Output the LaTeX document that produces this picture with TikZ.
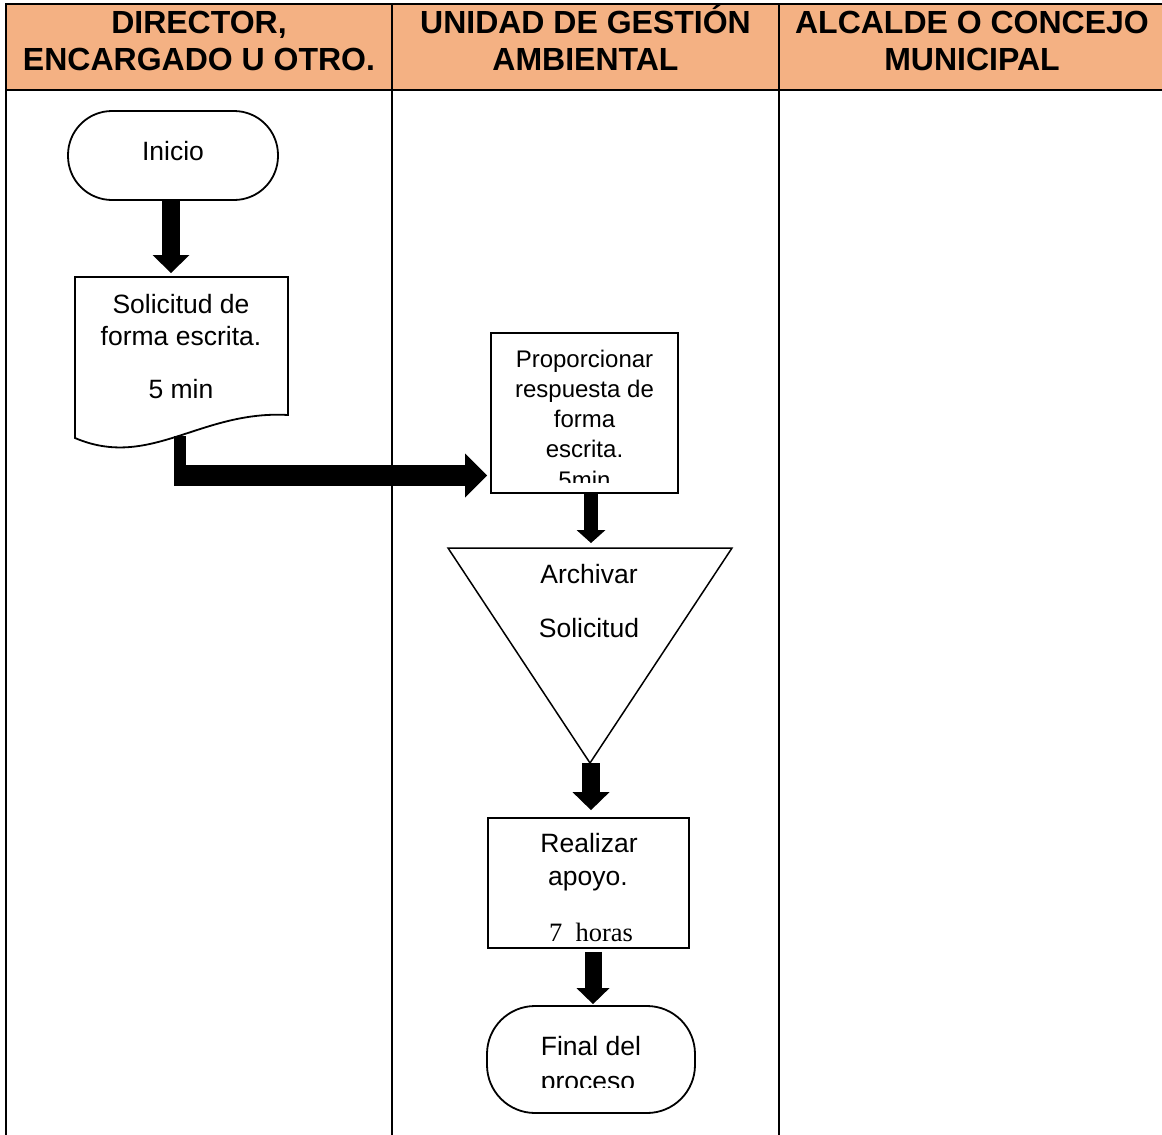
\documentclass[tikz,border=0pt]{standalone}
\usepackage{fontspec}
\setmainfont{Liberation Sans}
\newfontfamily\serifface{Liberation Serif}
\usetikzlibrary{arrows.meta,calc}
\definecolor{headfill}{HTML}{F4B183}
\begin{document}
\begin{tikzpicture}[x=1pt,y=-1pt,
  tbl/.style={line width=2pt, line cap=rect},
  shp/.style={draw, line width=1.8pt, fill=white, inner sep=0pt},
  hdr/.style={font=\fontsize{32}{36}\selectfont\bfseries, anchor=base, inner sep=0pt},
  body/.style={font=\fontsize{26.5}{30}\selectfont, anchor=base, inner sep=0pt},
  small/.style={font=\fontsize{24}{28}\selectfont, anchor=base, inner sep=0pt},
  arrowA/.style={line width=18pt, -{Triangle[width=37pt,length=18pt,line width=0pt]}},
  arrowB/.style={line width=14pt, -{Triangle[width=29pt,length=13pt,line width=0pt]}},
  arrowC/.style={line width=17pt, -{Triangle[width=33pt,length=16pt,line width=0pt]}},
  arrowE/.style={line width=21pt, -{Triangle[width=44pt,length=22pt,line width=0pt]}}
]
\useasboundingbox (0,0) rectangle (1162,1135);

% table
\fill[headfill] (6,4) rectangle (1162,90);
\draw[tbl] (6,4) -- (1162,4);
\draw[tbl] (6,90) -- (1162,90);
\draw[tbl] (6,4) -- (6,1140);
\draw[tbl] (392,4) -- (392,1140);
\draw[tbl] (779,4) -- (779,1140);

% headers
\node[hdr] (h1a) at (199,33.5) {DIRECTOR,};
\node[hdr] (h1b) at (199,70.5) {ENCARGADO U OTRO.};
\node[hdr] (h2a) at (585.5,33.5) {UNIDAD DE GESTIÓN};
\node[hdr] (h2b) at (585.5,70.5) {AMBIENTAL};
\node[hdr] (h3a) at (972,33.5) {ALCALDE O CONCEJO};
\node[hdr] (h3b) at (972,70.5) {MUNICIPAL};

% Inicio
\node[shp, rounded corners=44pt, minimum width=210pt, minimum height=89pt] (inicio) at (173,155.5) {};
\node[body] (tinicio) at (173,160) {Inicio};

% document shape
\draw[line width=1.8pt, fill=white] (75,277) -- (288,277) -- (288,415)
  .. controls (200,410) and (150,470) .. (75,438) -- cycle;
\coordinate (soltop) at (171,277);
\coordinate (solout) at (180,436);
\coordinate (elbow) at (174,475.5);
\node[body] (tsol1) at (181,313) {Solicitud de};
\node[body] (tsol2) at (181,345.5) {forma escrita.};
\node[body] (tsol3) at (181,398.5) {5 min};

% Proporcionar
\node[shp, minimum width=187pt, minimum height=160pt] (prop) at (584.5,413) {};
\coordinate (propin) at (487,475.5);
\begin{scope}
\clip (491,333) rectangle (678,482.5);
\node[small] (tp1) at (584.5,367) {Proporcionar};
\node[small] (tp2) at (584.5,397) {respuesta de};
\node[small] (tp3) at (584.5,427) {forma};
\node[small] (tp4) at (584.5,457) {escrita.};
\node[small] (tp5) at (584.5,488) {5min};
\end{scope}

% Archivar triangle
\draw[line width=1.5pt, fill=white] (448,548) -- (732,548) -- (590,763) -- cycle;
\coordinate (archtop) at (591,548);
\coordinate (archapex) at (591,763);
\node[body] (ta1) at (589,583) {Archivar};
\node[body] (ta2) at (589,637) {Solicitud};

% Realizar
\node[shp, minimum width=201pt, minimum height=130pt] (real) at (588.5,883) {};
\node[body] (tr1) at (589,852) {Realizar};
\node[body] (tr2) at (588,885) {apoyo.};
\begin{scope}
\clip (488,818) rectangle (689,941.5);
\node[body, font=\fontsize{26.5}{30}\serifface] (tr3) at (591,941) {7~~horas};
\end{scope}

% Final
\node[shp, rounded corners=48pt, minimum width=208pt, minimum height=107pt] (fin) at (591,1059.5) {};
\node[body] (tf1) at (591,1055) {Final del};
\begin{scope}
\clip (487,1006) rectangle (695,1087.5);
\node[body] (tf2) at (588,1090.5) {proceso};
\end{scope}

% connectors
\draw[arrowA] (inicio.south -| soltop) -- ($(soltop)+(0,-4)$);
\draw[line width=12pt] (solout) -- (elbow -| solout) -- ++(0,10);
\draw[arrowE] (elbow) -- (propin);
\draw[arrowB] (prop.south -| archtop) -- ($(archtop)+(0,-5)$);
\draw[arrowA] (archapex) -- ($(real.north -| archapex)+(0,-7)$);
\draw[arrowC] ($(real.south)+(4.5,3)$) -- ($(fin.north)+(2,-1)$);
\end{tikzpicture}
\end{document}
